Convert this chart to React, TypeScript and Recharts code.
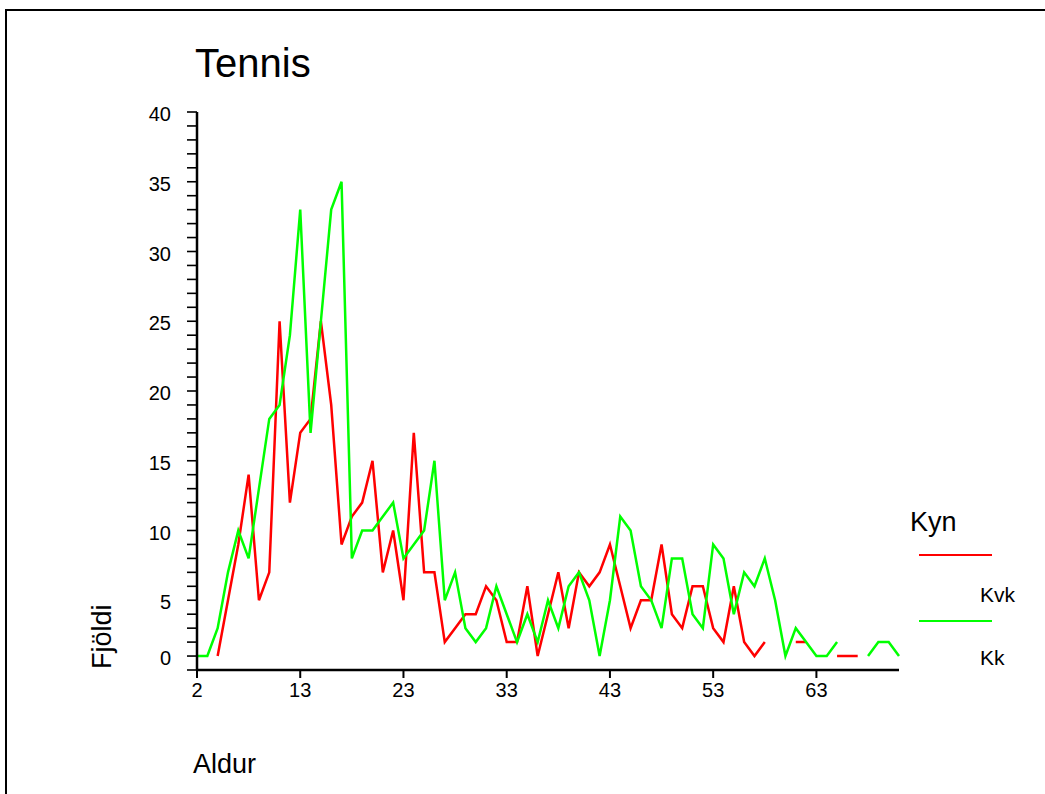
import React from 'react';
import { LineChart, Line, XAxis, YAxis } from 'recharts';

// Age categories (x axis)
const ages = [
  2, 4, 5, 6, 7, 8, 9, 10, 11, 12,
  13, 14, 15, 16, 17, 18, 19, 20, 21, 22,
  23, 24, 25, 26, 27, 28, 29, 30, 31, 32,
  33, 34, 35, 36, 37, 38, 39, 40, 41, 42,
  43, 44, 45, 46, 47, 48, 49, 50, 51, 52,
  53, 54, 55, 56, 57, 58, 59, 60, 61, 62,
  63, 64, 65, 66, 67, 68, 69, 70, 71,
];

// Kvk (red)
const kvk: (number | null)[] = [
  null, null, 1, 5, 9, 14, 5, 7, 25, 12,
  17, 18, 25, 19, 9, 11, 12, 15, 7, 10,
  5, 17, 7, 7, 2, 3, 4, 4, 6, 5,
  2, 2, 6, 1, 4, 7, 3, 7, 6, 7,
  9, 6, 3, 5, 5, 9, 4, 3, 6, 6,
  3, 2, 6, 2, 1, 2, null, null, 2, 2,
  null, null, 1, 1, 1, null, null, null, null,
];

// Kk (green)
const kk: (number | null)[] = [
  1, 1, 3, 7, 10, 8, 13, 18, 19, 24,
  33, 17, 25, 33, 35, 8, 10, 10, 11, 12,
  8, 9, 10, 15, 5, 7, 3, 2, 3, 6,
  4, 2, 4, 2, 5, 3, 6, 7, 5, 1,
  5, 11, 10, 6, 5, 3, 8, 8, 4, 3,
  9, 8, 4, 7, 6, 8, 5, 1, 3, 2,
  1, 1, 2, null, null, 1, 2, 2, 1,
];

const seriesKeys = ['Kvk', 'Kk'];
const seriesColors = ['#ff0000', '#00ff00'];

// y ticks: one per unit; labelled ones as drawn in the original
const yTicks = Array.from({ length: 41 }, (_, i) => i);
const yTickLabels: Record<number, string> = {
  1: '0', 5: '5', 10: '10', 15: '15', 20: '20', 25: '25', 30: '30', 35: '35', 40: '40',
};

const title = 'Tennis';
const xTitle = 'Aldur';
const yTitle = 'Fjöldi';
const legendTitle = 'Kyn';

const data = ages.map((age, i) => ({ age, Kvk: kvk[i], Kk: kk[i] }));

const FONT = '"Liberation Sans", Arial, Helvetica, sans-serif';

const YTick = (props: any) => {
  const { x, y, payload } = props;
  const label = yTickLabels[payload.value] ?? '';
  if (!label) return null;
  return (
    <text
      x={x}
      y={y + 2}
      textAnchor="end"
      dominantBaseline="central"
      fontSize={20}
      fontFamily={FONT}
      fill="#000"
    >
      {label}
    </text>
  );
};

const XTick = (props: any) => {
  const { x, y, payload } = props;
  return (
    <text
      x={x}
      y={y + 19}
      textAnchor="middle"
      fontSize={20}
      fontFamily={FONT}
      fill="#000"
    >
      {payload.value}
    </text>
  );
};

export default function App() {
  return (
    <div
      style={{
        position: 'absolute',
        left: 0,
        top: 0,
        width: 1045,
        height: 794,
        overflow: 'hidden',
        background: '#fff',
        fontFamily: FONT,
      }}
    >
      <div
        style={{
          position: 'absolute',
          left: 5,
          top: 9,
          width: 1200,
          height: 1000,
          border: '2px solid #000',
        }}
      />
      <svg
        width={1045}
        height={794}
        style={{ position: 'absolute', left: 0, top: 0 }}
      >
        <text x={195} y={77} fontSize={40} fontFamily={FONT} fill="#000">
          {title}
        </text>
        <text x={193} y={773} fontSize={27} fontFamily={FONT} fill="#000">
          {xTitle}
        </text>
        <text
          x={0}
          y={0}
          fontSize={27}
          fontFamily={FONT}
          fill="#000"
          textAnchor="start"
          transform="translate(111,669) rotate(-90)"
        >
          {yTitle}
        </text>
        <text x={910} y={531} fontSize={27} fontFamily={FONT} fill="#000">
          {legendTitle}
        </text>
        {seriesKeys.map((k, i) => (
          <g key={k}>
            <line
              x1={919}
              x2={992}
              y1={555 + i * 66}
              y2={555 + i * 66}
              stroke={seriesColors[i]}
              strokeWidth={2}
            />
            <text
              x={980}
              y={602 + i * 63}
              fontSize={21}
              fontFamily={FONT}
              fill="#000"
            >
              {k}
            </text>
          </g>
        ))}
      </svg>
      <div style={{ position: 'absolute', left: 0, top: 0 }}>
        <LineChart
          width={1045}
          height={794}
          data={data}
          margin={{ top: 112, right: 146, bottom: 94, left: 137 }}
        >
          <XAxis
            dataKey="age"
            type="category"
            scale="point"
            interval={9}
            height={30}
            tickSize={8}
            tickMargin={0}
            tick={<XTick />}
            tickLine={{ stroke: '#000', strokeWidth: 2 }}
            axisLine={{ stroke: '#000', strokeWidth: 2.5 }}
          />
          <XAxis
            xAxisId="top"
            orientation="top"
            dataKey="age"
            type="category"
            scale="point"
            height={0}
            tick={false}
            tickLine={false}
            axisLine={{ stroke: '#000', strokeWidth: 2 }}
          />
          <YAxis
            type="number"
            domain={[0, 40]}
            ticks={yTicks}
            interval={0}
            width={60}
            tickSize={10}
            tickMargin={16}
            tick={<YTick />}
            tickLine={{ stroke: '#000', strokeWidth: 1.6 }}
            axisLine={{ stroke: '#000', strokeWidth: 2.5 }}
            allowDataOverflow
          />
          <YAxis
            yAxisId="right"
            orientation="right"
            type="number"
            domain={[0, 40]}
            width={0}
            tick={false}
            tickLine={false}
            axisLine={{ stroke: '#000', strokeWidth: 2 }}
          />
          {seriesKeys.map((k, i) => (
            <Line
              key={k}
              type="linear"
              dataKey={k}
              stroke={seriesColors[i]}
              strokeWidth={2.5}
              dot={false}
              activeDot={false}
              connectNulls={false}
              isAnimationActive={false}
            />
          ))}
        </LineChart>
      </div>
    </div>
  );
}
